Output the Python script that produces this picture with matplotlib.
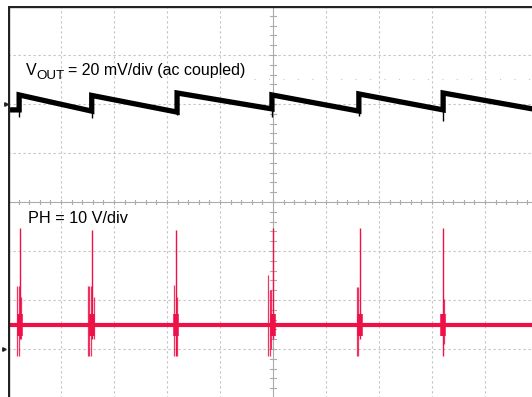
import matplotlib
matplotlib.use("Agg")
import matplotlib.pyplot as plt
import numpy as np
from matplotlib.transforms import offset_copy

plt.rcParams['font.family'] = ['Liberation Sans', 'DejaVu Sans']

# ---------------- data (time in divisions, 10 div full screen) ----------------
# VOUT channel: 20 mV/div, ac coupled, ground marker at +2 div
vout_scale_mV = 20.0
vout_offset_div = 2.0
vout_start_mV = -2.4
vout_jump_t = [0.21, 1.58, 3.19, 4.98, 6.62, 8.21]
vout_peak_mV = [3.7, 3.5, 4.5, 3.7, 4.1, 4.5]
vout_end_mV = [-2.9, -3.3, -2.0, -2.9, -2.4, -2.4]
vout_dip_mV = [-5.3, -5.7, -4.5, -5.3, -5.0, -6.9]

# PH channel: 10 V/div, ground marker at -3 div
ph_scale_V = 10.0
ph_offset_div = -3.0
ph_base_V = 4.9
ph_spike_t = [0.23, 1.585, 3.17, 5.0, 6.64, 8.21]
ph_spike_hi_V = [24.7, 24.3, 24.3, 24.7, 24.7, 24.7]
ph_spike_lo_V = [2.0, 2.0, -1.4, 2.0, 2.0, -1.4]
ph_ring_t = [0.17, 0.21, 0.245, 1.50, 1.53, 1.56, 1.63, 3.13, 3.18,
             4.91, 4.94, 4.97, 6.58, 6.61, 8.23]
ph_ring_hi_V = [12.9, 12.9, 10.6, 12.9, 12.9, 12.9, 10.6, 13.1, 10.6,
                15.1, 12.0, 12.0, 12.7, 12.7, 10.2]
ph_ring_lo_V = [-1.4, -1.4, 2.0, -1.4, -1.4, -1.4, 2.0, -1.4, -1.4,
                -1.4, -1.4, 0.0, -1.4, -1.4, 1.0]

vout_label_parts = ['V', 'OUT', '= 20 mV/div (ac coupled)']
ph_label = 'PH = 10 V/div'

# ---------------- figure ----------------
W, H = 532, 397
fig = plt.figure(figsize=(W / 100, H / 100), dpi=100)
# screen: x 8..538 px, y 6..398 px
ax = fig.add_axes([8 / W, (H - 398) / H, 530 / W, 392 / H])
ax.set_xlim(0, 10)
ax.set_ylim(-4, 4)
ax.axis('off')

grid_c = '#c2c2c2'
for gx in range(1, 10):
    if gx == 5:
        continue
    ax.plot([gx, gx], [-4, 4], color=grid_c, lw=0.8, ls=(0, (2, 2.5)), zorder=1)
for gy in range(-3, 4):
    if gy == 0:
        continue
    ax.plot([0, 10], [gy, gy], color=grid_c, lw=0.8, ls=(0, (2, 2.5)), zorder=1)

# centre lines with minor ticks
cc = '#acacac'
ax.plot([5, 5], [-4, 4], color=cc, lw=0.8, zorder=1)
ax.plot([0, 10], [0, 0], color=cc, lw=0.8, zorder=1)
for t in np.arange(0, 10.01, 0.2):
    ax.plot([t, t], [-0.05, 0.05], color=cc, lw=0.8, zorder=1)
for t in np.arange(-4, 4.01, 0.2):
    ax.plot([4.94, 5.06], [t, t], color=cc, lw=0.8, zorder=1)

# faint dotted level line
ax.plot([4.65, 10], [2.5, 2.5], color='#c8c8c8', lw=0.8, ls=(0, (1, 12)), zorder=1)

# border
ax.plot([0, 0], [-4.2, 4], color='#222222', lw=2.4, zorder=5, solid_capstyle='projecting')
ax.plot([0, 10], [4, 4], color='#222222', lw=2.4, zorder=5, solid_capstyle='projecting')

# ground markers
ax.plot([-0.03], [vout_offset_div], marker='>', ms=2.5, color='#222222', clip_on=False, zorder=6)
ax.plot([-0.07], [ph_offset_div], marker='>', ms=2.5, color='#222222', clip_on=False, zorder=6)

# ---------------- VOUT trace ----------------
vx, vy = [0.0], [vout_start_mV]
prev_end = vout_start_mV
for i, t in enumerate(vout_jump_t):
    vx += [t, t]
    vy += [prev_end, vout_peak_mV[i]]
    t_next = vout_jump_t[i + 1] if i + 1 < len(vout_jump_t) else 10.0
    vx.append(t_next)
    vy.append(vout_end_mV[i])
    prev_end = vout_end_mV[i]
vy_div = np.array(vy) / vout_scale_mV + vout_offset_div
ax.plot(vx, vy_div, color='black', lw=3.8, zorder=4, solid_joinstyle='miter')
dip_div = np.array(vout_dip_mV) / vout_scale_mV + vout_offset_div
ax.vlines(vout_jump_t, dip_div, dip_div + 0.2, color='black', lw=1.0, zorder=4)

# ---------------- PH trace ----------------
red = '#ee1148'
base_div = ph_base_V / ph_scale_V + ph_offset_div
ax.plot([0, 10], [base_div, base_div], color=red, lw=3.0, zorder=3)
ring_hi = np.array(ph_ring_hi_V) / ph_scale_V + ph_offset_div
ring_lo = np.array(ph_ring_lo_V) / ph_scale_V + ph_offset_div
ax.vlines(ph_ring_t, ring_lo, ring_hi, color=red, lw=0.9, alpha=0.85, zorder=3)
sp_hi = np.array(ph_spike_hi_V) / ph_scale_V + ph_offset_div
sp_lo = np.array(ph_spike_lo_V) / ph_scale_V + ph_offset_div
ax.vlines(ph_spike_t, sp_lo, sp_hi, color=red, lw=1.0, zorder=3)
ax.vlines(ph_spike_t, base_div - 0.22, base_div + 0.22, color=red, lw=4.0, zorder=3)

# ---------------- labels ----------------
fs = 11.7
fs_v = 11.5
fig.canvas.draw()
renderer = fig.canvas.get_renderer()
t1 = ax.text(0.34, 2.59, vout_label_parts[0], fontsize=fs_v, color='black',
             ha='left', va='baseline', zorder=6)
w1 = t1.get_window_extent(renderer).width
tr2 = offset_copy(ax.transData, fig=fig, x=w1 * 72 / 100, y=-4 * 72 / 100, units='points')
t2 = ax.text(0.34, 2.59, vout_label_parts[1], fontsize=fs_v * 0.84, color='black',
             ha='left', va='baseline', zorder=6, transform=tr2)
w2 = t2.get_window_extent(renderer).width
tr3 = offset_copy(ax.transData, fig=fig, x=(w1 + w2 + 3) * 72 / 100, y=0, units='points')
ax.text(0.34, 2.59, vout_label_parts[2], fontsize=fs_v, color='black',
        ha='left', va='baseline', zorder=6, transform=tr3)
ax.text(0.377, -0.43, ph_label, fontsize=fs, color='black', ha='left', va='baseline', zorder=6)

fig.savefig('out.png', dpi=100)
